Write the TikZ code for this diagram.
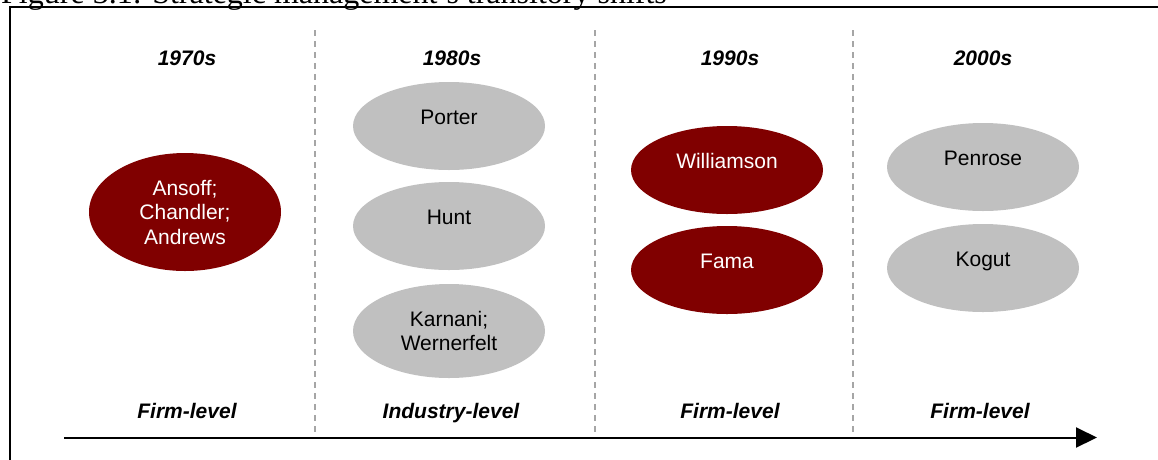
\documentclass[tikz,border=0pt]{standalone}
\usepackage{fontspec}
\setmainfont{Liberation Sans}
\newfontfamily\capfont{Liberation Serif}
\usetikzlibrary{shapes.geometric,arrows.meta}
\definecolor{dred}{HTML}{800000}
\definecolor{lgrey}{HTML}{C0C0C0}
\definecolor{dashgrey}{HTML}{A6A6A6}
\begin{document}
\begin{tikzpicture}[x=1pt,y=-1pt,
  oval/.style={ellipse, inner sep=0pt, minimum width=192pt, minimum height=88pt,
    font=\fontsize{21}{24.5}\selectfont, align=center},
  redoval/.style={oval, fill=dred, text=white},
  greyoval/.style={oval, fill=lgrey, text=black},
  oneline/.style={text height=15pt, text depth=19pt},
  era/.style={font=\fontsize{21}{25}\selectfont\bfseries\itshape, anchor=base, inner sep=0pt},
  sep/.style={draw=dashgrey, line width=1.5pt, dash pattern=on 6pt off 5pt},
  frame/.style={draw=black, line width=2pt},
  timeline/.style={draw=black, line width=2pt, -{Triangle[length=21pt,width=20pt]}}
]
\useasboundingbox (0,0) rectangle (1158,459);
\clip (0,0) rectangle (1158,459);

% caption (cut off at the top)
\node[font=\capfont\fontsize{32}{36}\selectfont, anchor=base west, inner sep=0pt] (cap) at (1,3)
  {Figure 3.1: Strategic management’s transitory shifts};

% frame
\draw[frame] (10,470) -- (10,7) -- (1170,7);

% separators
\coordinate (s1t) at (315,30); \coordinate (s1b) at (315,435);
\coordinate (s2t) at (595,30); \coordinate (s2b) at (595,435);
\coordinate (s3t) at (853,30); \coordinate (s3b) at (853,435);
\draw[sep] (s1t) -- (s1b);
\draw[sep] (s2t) -- (s2b);
\draw[sep] (s3t) -- (s3b);

% era headings
\node[era] (y70) at (187,65) {1970s};
\node[era] (y80) at (452,65) {1980s};
\node[era] (y90) at (730,65) {1990s};
\node[era] (y00) at (983,65) {2000s};

% ellipses
\node[redoval, minimum height=118pt] (ansoff) at (185,212) {Ansoff;\\Chandler;\\Andrews};
\node[greyoval, oneline] (porter) at (449,126) {Porter};
\node[greyoval, oneline] (hunt) at (449,226) {Hunt};
\node[greyoval, minimum height=94pt] (karnani) at (449,331) {Karnani;\\Wernerfelt};
\node[redoval, oneline] (williamson) at (727,170) {Williamson};
\node[redoval, oneline] (fama) at (727,270) {Fama};
\node[greyoval, oneline] (penrose) at (983,167) {Penrose};
\node[greyoval, oneline] (kogut) at (983,268) {Kogut};

% level labels
\node[era] (l70) at (187,418) {Firm-level};
\node[era] (l80) at (451,418) {Industry-level};
\node[era] (l90) at (730,418) {Firm-level};
\node[era] (l00) at (980,418) {Firm-level};

% time arrow
\coordinate (as) at (64,437.5);
\coordinate (ae) at (1097,437.5);
\draw[timeline] (as) -- (ae);
\end{tikzpicture}
\end{document}
